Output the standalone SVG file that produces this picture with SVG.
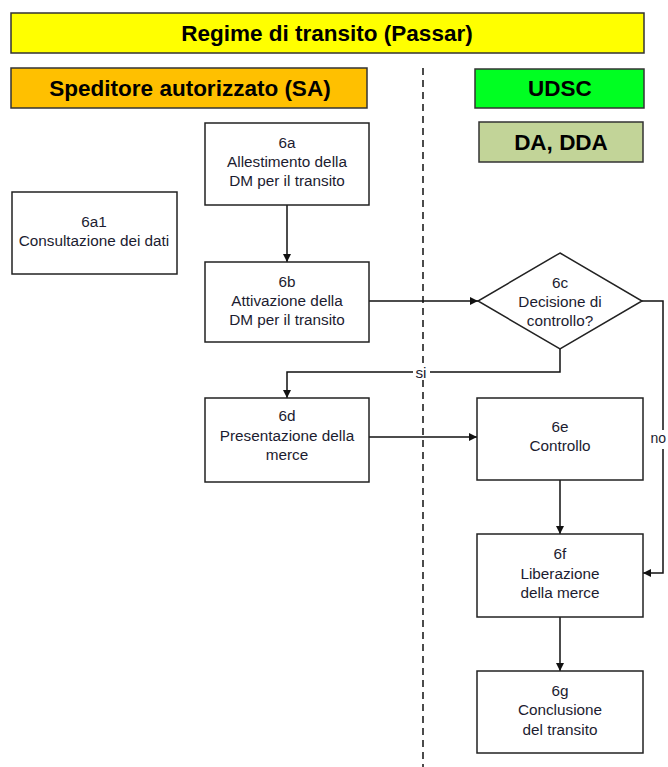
<svg xmlns="http://www.w3.org/2000/svg" width="668" height="767" viewBox="0 0 668 767">
<defs>
<style>
.hdr{stroke:#333;stroke-width:1.5}
.ht{font-family:"Liberation Sans",Arial,sans-serif;font-weight:bold;font-size:22.5px;fill:#000;text-anchor:middle}
.box{fill:#fff;stroke:#222;stroke-width:1.5}
.t{font-family:"Liberation Sans",Arial,sans-serif;font-size:15.3px;fill:#1c1c30;text-anchor:middle}
.ln{fill:none;stroke:#111;stroke-width:1.5}
</style>
<marker id="ah" viewBox="0 0 10 10" refX="10" refY="5" markerWidth="8" markerHeight="8" markerUnits="userSpaceOnUse" orient="auto">
<path d="M0,0 L10,5 L0,10 z" fill="#111"/>
</marker>
</defs>
<rect width="668" height="767" fill="#fff"/>
<g id="header-title"><rect class="hdr" x="11" y="13" width="633" height="40" fill="#ffff00"/><text class="ht" x="327" y="41">Regime di transito (Passar)</text></g>
<g id="lane-sa"><rect class="hdr" x="11" y="68" width="356" height="40" fill="#ffc000"/><text class="ht" x="190" y="96">Speditore autorizzato (SA)</text></g>
<g id="lane-udsc"><rect class="hdr" x="475" y="69" width="169" height="39" fill="#00ff22"/><text class="ht" x="560" y="96">UDSC</text></g>
<g id="lane-da"><rect class="hdr" x="479" y="122" width="164" height="40" fill="#c2d498"/><text class="ht" x="561" y="150">DA, DDA</text></g>
<line x1="423" y1="68" x2="423" y2="767" stroke="#111" stroke-width="1.5" stroke-dasharray="7,5"/>
<g id="connectors">
<line class="ln" x1="287" y1="205" x2="287" y2="262" marker-end="url(#ah)"/>
<line class="ln" x1="369" y1="301" x2="478" y2="301" marker-end="url(#ah)"/>
<polyline class="ln" points="560,349 560,372 287,372 287,398" marker-end="url(#ah)"/>
<polyline class="ln" points="642,301 663,301 663,430"/>
<polyline class="ln" points="663,449 663,573 643,573" marker-end="url(#ah)"/>
<line class="ln" x1="369" y1="437" x2="477" y2="437" marker-end="url(#ah)"/>
<line class="ln" x1="560" y1="480" x2="560" y2="534" marker-end="url(#ah)"/>
<line class="ln" x1="560" y1="617" x2="560" y2="671" marker-end="url(#ah)"/>
<rect x="413" y="364" width="17" height="16" fill="#fff"/>
<text class="t" x="421" y="378">si</text>
<text class="t" x="666" y="443" style="text-anchor:end;font-size:14px">no</text>
</g>
<g id="n6a"><rect class="box" x="205" y="123" width="164" height="82"/><text class="t" x="287" y="148">6a</text><text class="t" x="287" y="167">Allestimento della</text><text class="t" x="287" y="186">DM per il transito</text></g>
<g id="n6a1"><rect class="box" x="12" y="192" width="165" height="82"/><text class="t" x="94" y="227">6a1</text><text class="t" x="94" y="246">Consultazione dei dati</text></g>
<g id="n6b"><rect class="box" x="205" y="262" width="164" height="80"/><text class="t" x="287" y="287">6b</text><text class="t" x="287" y="306">Attivazione della</text><text class="t" x="287" y="325">DM per il transito</text></g>
<g id="n6c"><polygon class="box" points="560,253 642,301 560,349 478,301"/><text class="t" x="560" y="288">6c</text><text class="t" x="560" y="307">Decisione di</text><text class="t" x="560" y="326">controllo?</text></g>
<g id="n6d"><rect class="box" x="205" y="398" width="164" height="84"/><text class="t" x="287" y="421">6d</text><text class="t" x="287" y="441">Presentazione della</text><text class="t" x="287" y="460">merce</text></g>
<g id="n6e"><rect class="box" x="477" y="398" width="166" height="82"/><text class="t" x="560" y="432">6e</text><text class="t" x="560" y="451">Controllo</text></g>
<g id="n6f"><rect class="box" x="477" y="534" width="166" height="83"/><text class="t" x="560" y="559">6f</text><text class="t" x="560" y="579">Liberazione</text><text class="t" x="560" y="598">della merce</text></g>
<g id="n6g"><rect class="box" x="477" y="671" width="166" height="82"/><text class="t" x="560" y="696">6g</text><text class="t" x="560" y="715">Conclusione</text><text class="t" x="560" y="735">del transito</text></g>
</svg>
